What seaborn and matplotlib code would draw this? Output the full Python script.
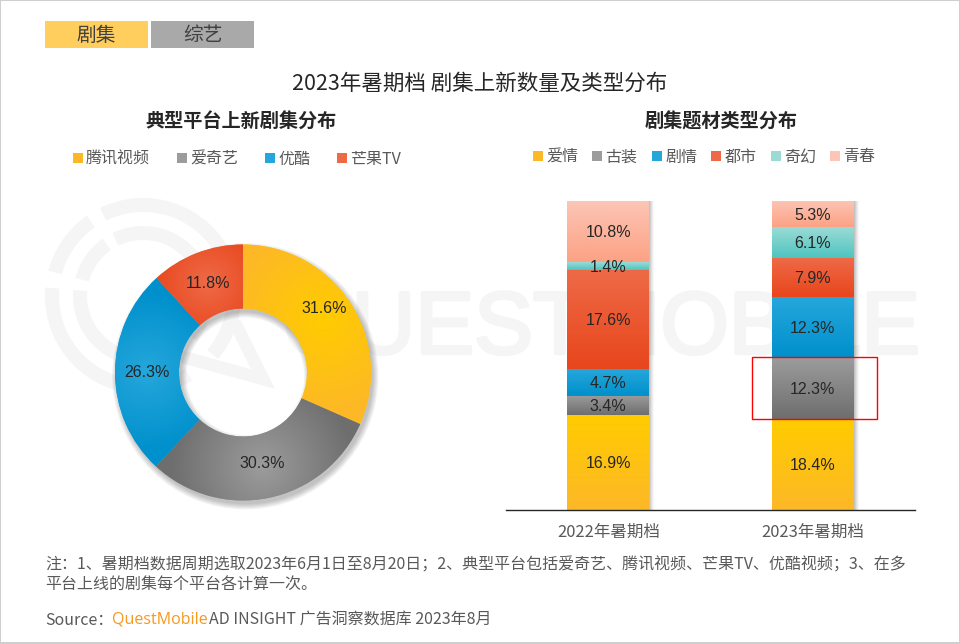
import matplotlib
matplotlib.use("Agg")
import matplotlib.pyplot as plt
from matplotlib.colors import LinearSegmentedColormap
from matplotlib.lines import Line2D
from matplotlib.patches import Rectangle, Wedge
from matplotlib import patheffects
import numpy as np
import pandas as pd
import seaborn as sns

platforms = ["腾讯视频", "爱奇艺", "优酷", "芒果TV"]
platform_share = [31.6, 30.3, 26.3, 11.8]
genres = ["爱情", "古装", "剧情", "都市", "奇幻", "青春"]
periods = ["2022年暑期档", "2023年暑期档"]
genre_2022 = [16.9, 3.4, 4.7, 17.6, 1.4, 10.8]
genre_2023 = [18.4, 12.3, 12.3, 7.9, 6.1, 5.3]

# light, dark ends of each gradient
GRAD = {
    "yellow": ("#FFCC00", "#FDB827"),
    "gray": ("#9C9C9C", "#6E6E6E"),
    "blue": ("#25A7DB", "#0090CC"),
    "red": ("#EE6A47", "#E8461C"),
    "teal": ("#9ADBD6", "#4FC4C0"),
    "pink": ("#FCC5B5", "#FCA285"),
}
PIE_COLORS = ["yellow", "gray", "blue", "red"]
BAR_COLORS = ["yellow", "gray", "blue", "red", "teal", "pink"]
# label nudges on the ring (data units of the donut axes)
PIE_NUDGE = [(0.005, 0.09), (0, 0.025), (0, 0), (0, 0)]
TEXT = "#262626"
NOTE = "#595959"
CJK = ["Noto Sans CJK SC", "DejaVu Sans"]
W, H = 960, 644

sns.set_theme(style="white")
plt.rcParams["font.family"] = CJK
plt.rcParams["axes.unicode_minus"] = False


def px_axes(fig, left, top, right, bottom, **kw):
    return fig.add_axes([left / W, 1 - bottom / H, (right - left) / W, (bottom - top) / H], **kw)


def make_legend(ax, labels, colors, anchor, spacing):
    handles = [
        Line2D([], [], ls="none", marker="s", ms=6.6, mew=0, color=GRAD[c][1 if c == "yellow" else 0])
        for c in colors
    ]
    ax.legend(
        handles, labels, ncol=len(labels), frameon=False, loc="center left",
        bbox_to_anchor=anchor, bbox_transform=ax.figure.transFigure,
        fontsize=11.5, labelcolor=NOTE, handlelength=0.6, handletextpad=0.22,
        columnspacing=spacing, borderpad=0, borderaxespad=0,
    )


def draw_watermark(ax):
    wm = "#F5F5F5"
    cx, cy = 143, 296
    # y axis points down here, so angles run clockwise on screen
    for r in [98, 70]:
        for a0, a1 in [(60, 185), (195, 235), (244, 400)]:
            ax.add_patch(Wedge((cx, cy), r, a0, a1, width=14, fc=wm, ec="none"))
    ax.plot([165, 263, 236], [352, 379, 325], color=wm, lw=9, solid_joinstyle="miter")
    ax.text(283, 331, "QUESTMOBILE", fontsize=63.5, family="Liberation Sans", color=wm,
            va="center", ha="left",
            path_effects=[patheffects.withStroke(linewidth=2.5, foreground=wm)])


def draw_page(ax):
    # background furniture, in pixel coordinates
    ax.set_xlim(0, W)
    ax.set_ylim(H, 0)
    ax.axis("off")
    for x0, y0, x1, y1 in [(0, 0, W, 1), (0, 0, 1, H), (0, H - 2, W, H), (W - 1, 0, W, H)]:
        ax.add_patch(Rectangle((x0, y0), x1 - x0, y1 - y0, fc="#CFCFCF", ec="none"))

    draw_watermark(ax)

    # tabs
    ax.add_patch(Rectangle((45, 21), 103, 27, fc="#FFCE5C", ec="none"))
    ax.add_patch(Rectangle((151, 21), 103, 27, fc="#A9A9A9", ec="none"))
    ax.text(96.5, 35.5, "剧集", fontsize=14.2, color="#404040", ha="center", va="center")
    ax.text(202.5, 35.5, "综艺", fontsize=14.2, color="#404040", ha="center", va="center")

    ax.text(480, 84, "2023年暑期档 剧集上新数量及类型分布", fontsize=15.5, color=TEXT,
            ha="center", va="center", fontweight="medium")
    ax.text(240.5, 122.5, "典型平台上新剧集分布", fontsize=13.8, color=TEXT, ha="center", va="center", fontweight="bold")
    ax.text(721, 122.5, "剧集题材类型分布", fontsize=13.8, color=TEXT, ha="center", va="center", fontweight="bold")

    ax.text(45, 565, "注：1、暑期档数据周期选取2023年6月1日至8月20日；2、典型平台包括爱奇艺、腾讯视频、芒果TV、优酷视频；3、在多",
            fontsize=11.5, color=NOTE, ha="left", va="center")
    ax.text(45, 584, "平台上线的剧集每个平台各计算一次。", fontsize=11.5, color=NOTE, ha="left", va="center")
    ax.text(45, 620, "Source：", fontsize=11.5, color=NOTE, ha="left", va="center")
    ax.text(112, 620, "QuestMobile", fontsize=11.5, color="#F7981D", ha="left", va="center", family="Open Sans")
    ax.text(209, 620, "AD INSIGHT 广告洞察数据库 2023年8月", fontsize=11.5, color=NOTE, ha="left", va="center")


def draw_donut(ax):
    wedges, _ = ax.pie(
        platform_share, startangle=90, counterclock=False, radius=1,
        wedgeprops={"width": 0.5, "linewidth": 0},
        colors=[GRAD[c][0] for c in PIE_COLORS],
    )

    # soft shadow of the ring, falls into the hole on the upper left
    for grow in [0.04, 0.03, 0.02, 0.01, 0.0]:
        ax.add_patch(Wedge((0.018, -0.03), 1 + grow, 0, 360, width=0.5 + 2 * grow,
                           fc="#000000", ec="none", alpha=0.05, zorder=0.5))

    xs = np.linspace(-1.02, 1.02, 500)
    xx, yy = np.meshgrid(xs, xs)
    for wedge, name, share, nudge in zip(wedges, PIE_COLORS, platform_share, PIE_NUDGE):
        mid = np.deg2rad((wedge.theta1 + wedge.theta2) / 2)
        cx, cy = 0.75 * np.cos(mid), 0.75 * np.sin(mid)
        dist = np.hypot(xx - cx, yy - cy)
        half = np.deg2rad(wedge.theta2 - wedge.theta1) / 2 * 0.75
        level = np.clip(dist / max(half, 0.45), 0, 1)
        cmap = LinearSegmentedColormap.from_list(name, GRAD[name])
        im = ax.imshow(level, cmap=cmap, vmin=0, vmax=1, extent=(-1.02, 1.02, -1.02, 1.02),
                       origin="lower", zorder=2)
        im.set_clip_path(wedge)
        wedge.set_zorder(1)
        ax.text(cx + nudge[0], cy + nudge[1], f"{share}%", fontsize=11.5,
                family="Liberation Sans", color=TEXT, ha="center", va="center", zorder=3)
    ax.set_xlim(-1.15, 1.15)
    ax.set_ylim(-1.15, 1.15)


def draw_bars(ax):
    df = pd.DataFrame({
        "period": np.repeat(periods, len(genres)),
        "genre": genres * 2,
        "value": genre_2022 + genre_2023,
    })
    # histplot stacks the first hue on top, so the order is reversed
    sns.histplot(
        data=df, x="period", hue="genre", weights="value", hue_order=genres[::-1],
        multiple="fill", discrete=True, shrink=0.4, linewidth=0, alpha=1,
        legend=False, ax=ax,
    )
    ax.set_xlabel("")
    ax.set_ylabel("")
    ax.set_yticks([])
    ax.set_xticks([0, 1], periods)
    ax.tick_params(axis="x", length=0, labelsize=11.9, labelcolor=NOTE, pad=10)
    ax.patch.set_alpha(0)
    for side in ["top", "left", "right"]:
        ax.spines[side].set_visible(False)
    ax.spines["bottom"].set_color("#262626")
    ax.spines["bottom"].set_linewidth(1)
    ax.spines["bottom"].set_zorder(6)

    # recolour each bar with a vertical gradient, light at the top
    values = {0: genre_2022, 1: genre_2023}
    grad = np.linspace(0, 1, 64).reshape(-1, 1)
    for container in ax.containers:
        for rect in container:
            xpos = int(round(rect.get_x() + rect.get_width() / 2))
            bottom, height = rect.get_y(), rect.get_height()
            cum = np.cumsum(values[xpos]) / sum(values[xpos])
            idx = int(np.argmin(np.abs(cum - (bottom + height))))
            name = BAR_COLORS[idx]
            cmap = LinearSegmentedColormap.from_list(name, GRAD[name][::-1])
            x0, x1 = rect.get_x(), rect.get_x() + rect.get_width()
            ax.imshow(grad, cmap=cmap, vmin=0, vmax=1, extent=(x0, x1, bottom, bottom + height),
                      origin="lower", aspect="auto", zorder=3)
            ax.annotate(f"{values[xpos][idx]}%", ((x0 + x1) / 2, bottom + height / 2),
                        xytext=(0, -1), textcoords="offset points", fontsize=11.5,
                        family="Liberation Sans", color=TEXT, ha="center", va="center", zorder=5)
            # side shadow
            for k, a in enumerate([0.24, 0.18, 0.12, 0.07, 0.03]):
                dx = 0.0049
                ax.add_patch(Rectangle((x1 + k * dx, bottom), dx, height, fc="#000000", ec="none",
                                       alpha=a, zorder=2))
    ax.set_xlim(-0.5, 1.5)
    ax.set_ylim(0, 1)


fig = plt.figure(figsize=(9.6, 6.44), dpi=100, facecolor="white")
page = fig.add_axes([0, 0, 1, 1], zorder=0)
draw_page(page)
make_legend(page, platforms, PIE_COLORS, (73 / W, 1 - 159 / H), 1.68)

# ring centre at (243, 372), radius 128 px
donut = px_axes(fig, 243 - 147.2, 372.5 - 147.2, 243 + 147.2, 372.5 + 147.2, zorder=3)
donut.patch.set_alpha(0)
draw_donut(donut)

bar_ax = px_axes(fig, 506, 201, 915, 510, zorder=3)
draw_bars(bar_ax)

legend_ax = fig.add_axes([0, 0, 1, 1], zorder=1)
legend_ax.axis("off")
make_legend(legend_ax, genres, BAR_COLORS, (533 / W, 1 - 157 / H), 0.9)

# red highlight box over the 2023 古装 segment
page_top = fig.add_axes([0, 0, 1, 1], zorder=5)
page_top.set_xlim(0, W)
page_top.set_ylim(H, 0)
page_top.axis("off")
page_top.add_patch(Rectangle((751.5, 356.5), 125, 62, fc="none", ec="#FF0000", lw=1))

fig.savefig("out.png", dpi=100)
